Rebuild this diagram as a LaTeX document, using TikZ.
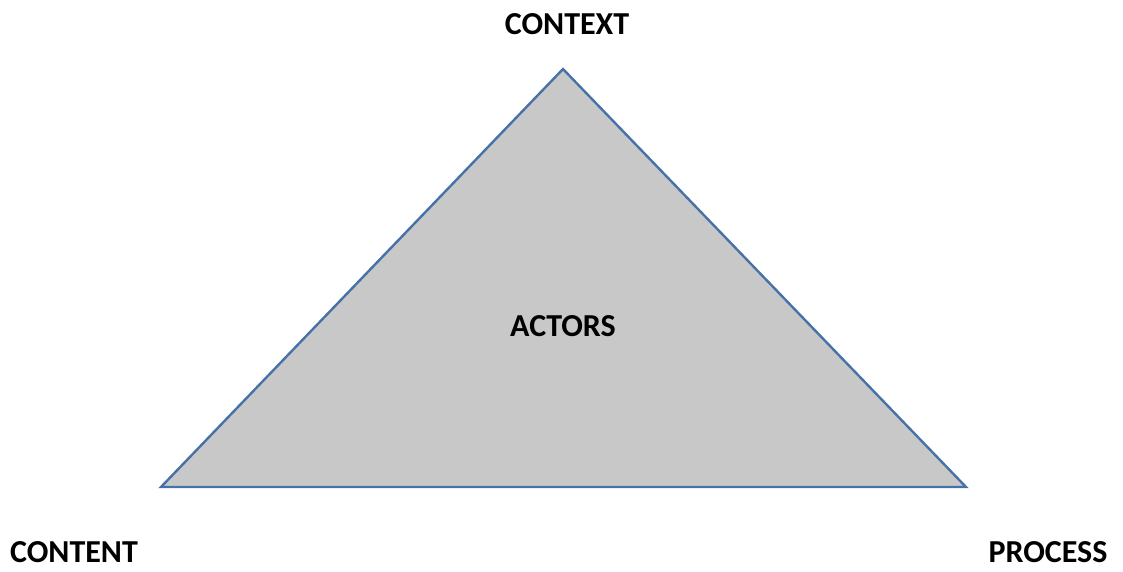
\documentclass[tikz,border=0pt]{standalone}
\usepackage{fontspec}
\setmainfont{Carlito}
\usepackage{xcolor}
\definecolor{edgeblue}{HTML}{4672A8}
\definecolor{fillgray}{HTML}{C8C8C8}
\tikzset{corner/.style={font=\fontsize{32}{36}\selectfont\bfseries, inner sep=0pt}}

\begin{document}
\begin{tikzpicture}[x=1pt, y=-1pt]
            \useasboundingbox (0,0) rectangle (1123,571);
            \coordinate (top) at (563,69);
            \coordinate (left) at (161,487);
            \coordinate (right) at (966,487);
            
            \draw[edgeblue, fill=fillgray, line width=2.4pt, line join=miter] (top)--(left)--(right)--cycle;
            
            \node[corner] (context) at (567,24) {CONTEXT};
            \node[corner] (actors) at (563,326) {ACTORS};
            \node[corner] (content) at (74,552) {CONTENT};
            \node[corner] (process) at (1048,552) {PROCESS};
\end{tikzpicture}
\end{document}
